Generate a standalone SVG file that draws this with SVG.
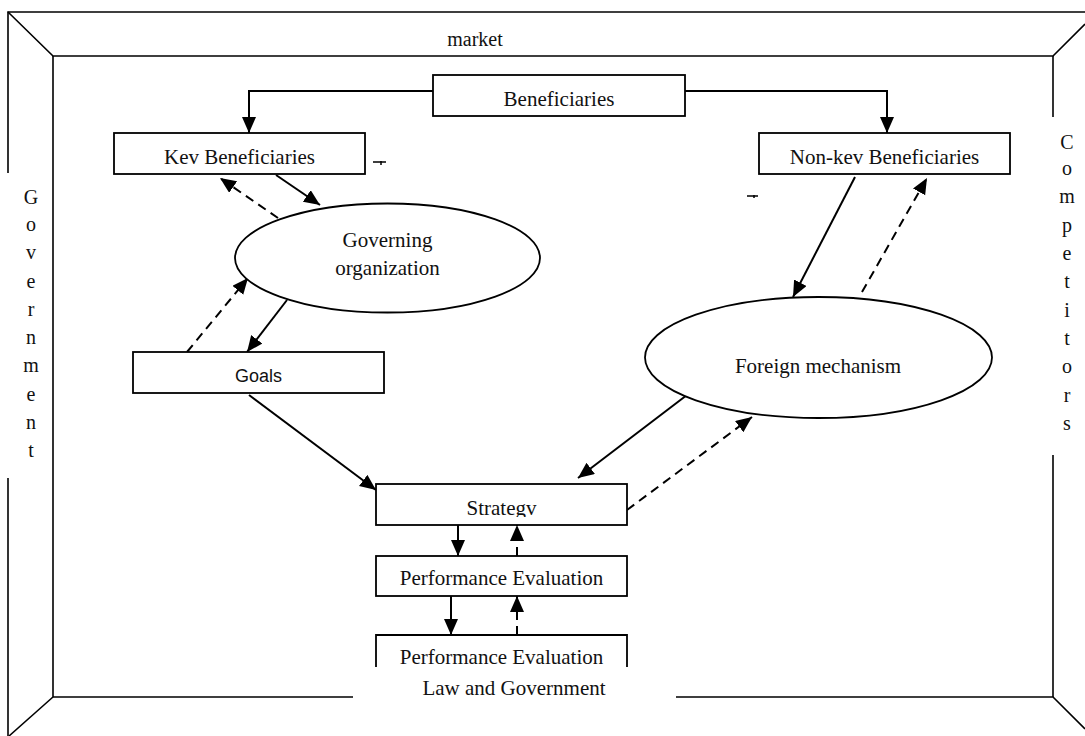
<svg xmlns="http://www.w3.org/2000/svg" width="1085" height="736" viewBox="0 0 1085 736">
<style>
.frame{fill:none;stroke:#000;stroke-width:1.6}
.box{fill:#fff;stroke:#000;stroke-width:1.8}
.ell{fill:#fff;stroke:#000;stroke-width:1.8}
.t{font-family:"Liberation Serif","Times New Roman",serif;font-size:21px;fill:#111;text-anchor:middle}
.s{font-family:"Liberation Serif","Times New Roman",serif;font-size:20px;fill:#111;text-anchor:middle}
.g{font-family:"Liberation Sans",Arial,sans-serif;font-size:18px;fill:#111;text-anchor:middle}
.c{fill:none;stroke:#000;stroke-width:2}
.d{fill:none;stroke:#000;stroke-width:2;stroke-dasharray:9 6}
</style>
<defs>
<marker id="ah" markerUnits="userSpaceOnUse" markerWidth="17" markerHeight="15" refX="16" refY="7" orient="auto">
<path d="M0,0 L16,7 L0,14 z" fill="#000"/>
</marker>
<clipPath id="clipStrat"><rect x="370" y="480" width="265" height="37"/></clipPath>
<clipPath id="clipPE2"><rect x="370" y="630" width="265" height="37"/></clipPath>
</defs>
<rect width="1085" height="736" fill="#fff"/>
<g id="frame">
<path class="frame" d="M8,173 V12 H1085"/>
<path class="frame" d="M8,478 V736"/>
<path class="frame" d="M8,12 L53,56 H1053 L1085,24"/>
<path class="frame" d="M53,56 V697 H353"/>
<path class="frame" d="M676,697 H1053 L1085,729"/>
<path class="frame" d="M53,697 L9,736"/>
<path class="frame" d="M1053,56 V117"/>
<path class="frame" d="M1053,455 V697"/>
<text class="s" x="475" y="46">market</text>
<text class="t" x="514" y="695">Law and Government</text>
<g class="s">
<text x="31" y="204">G</text>
<text x="31" y="231">o</text>
<text x="31" y="259">v</text>
<text x="31" y="288">e</text>
<text x="31" y="316">r</text>
<text x="31" y="344">n</text>
<text x="31" y="372">m</text>
<text x="31" y="401">e</text>
<text x="31" y="429">n</text>
<text x="31" y="457">t</text>
</g>
<g class="s">
<text x="1067" y="149">C</text>
<text x="1067" y="175">o</text>
<text x="1067" y="203">m</text>
<text x="1067" y="232">p</text>
<text x="1067" y="260">e</text>
<text x="1067" y="288">t</text>
<text x="1067" y="317">i</text>
<text x="1067" y="345">t</text>
<text x="1067" y="373">o</text>
<text x="1067" y="402">r</text>
<text x="1067" y="430">s</text>
</g>
</g>
<g id="connectors">
<path class="c" d="M433,91 H249 V133" marker-end="url(#ah)"/>
<path class="c" d="M685,91 H887 V133" marker-end="url(#ah)"/>
<path class="c" d="M276,175 L320,205" marker-end="url(#ah)"/>
<path class="d" d="M278,218 L220,178" marker-end="url(#ah)"/>
<path class="c" d="M287,300 L247,352" marker-end="url(#ah)"/>
<path class="d" d="M187,352 L248,278" marker-end="url(#ah)"/>
<path class="c" d="M249,395 L376,490" marker-end="url(#ah)"/>
<path class="c" d="M855,177 L793,297" marker-end="url(#ah)"/>
<path class="d" d="M862,292 L927,178" marker-end="url(#ah)"/>
<path class="c" d="M687,395 L578,478" marker-end="url(#ah)"/>
<path class="d" d="M627,510 L752,417" marker-end="url(#ah)"/>
<path class="c" d="M458,525 V556" marker-end="url(#ah)"/>
<path class="d" d="M517,556 V525" marker-end="url(#ah)"/>
<path class="c" d="M451,596 V635" marker-end="url(#ah)"/>
<path class="d" d="M517,635 V596" marker-end="url(#ah)"/>
</g>
<g id="beneficiaries">
<rect class="box" x="433" y="75" width="252" height="41"/>
<text class="t" x="559" y="106">Beneficiaries</text>
</g>
<g id="key-beneficiaries">
<rect class="box" x="114" y="133" width="251" height="41"/>
<text class="t" x="239.5" y="164">Kev Beneficiaries</text>
</g>
<g id="non-key-beneficiaries">
<rect class="box" x="759" y="133" width="251" height="41"/>
<text class="t" x="884.5" y="164">Non-kev Beneficiaries</text>
</g>
<g id="governing-organization">
<ellipse class="ell" cx="387.5" cy="258" rx="152.5" ry="54.5"/>
<text class="t" x="387.5" y="247">Governing</text>
<text class="t" x="387.5" y="275">organization</text>
</g>
<g id="goals">
<rect class="box" x="133" y="352" width="251" height="41"/>
<text class="g" x="258.5" y="382">Goals</text>
</g>
<g id="foreign-mechanism">
<ellipse class="ell" cx="818.5" cy="357.5" rx="173.5" ry="60.5"/>
<text class="t" x="818" y="373">Foreign mechanism</text>
</g>
<g id="strategy">
<rect class="box" x="376" y="484" width="251" height="41"/>
<text class="t" x="501.5" y="515" clip-path="url(#clipStrat)">Strategv</text>
</g>
<g id="performance-evaluation-1">
<rect class="box" x="376" y="556" width="251" height="40"/>
<text class="t" x="501.5" y="585">Performance Evaluation</text>
</g>
<g id="performance-evaluation-2">
<path class="box" fill="none" d="M376,667 V635 H627 V667"/>
<text class="t" x="501.5" y="664" clip-path="url(#clipPE2)">Performance Evaluation</text>
</g>
<g id="marks" stroke="#000" stroke-width="1.5">
<path d="M373,162 H386 M381,161 V165"/>
<path d="M747,196 H758 M754,195 V198"/>
</g>
</svg>
